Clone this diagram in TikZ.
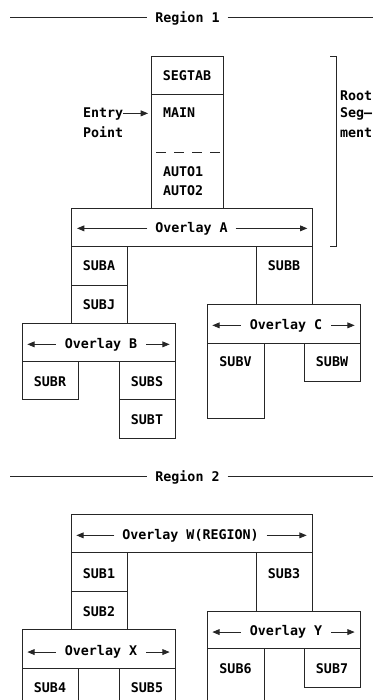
\documentclass[tikz,border=0pt]{standalone}
\usepackage{fontspec}
\setmainfont{DejaVu Sans Mono}
\usetikzlibrary{fit,arrows.meta,calc}
\tikzset{
  ln/.style={draw=black!85, line width=0.65pt},
  bx/.style={ln, inner sep=0pt, outer sep=0pt, fit={#1}},
  hole/.style={inner sep=0pt, outer sep=0pt, fit={#1}},
  tx/.style={inner sep=0pt, outer sep=0pt, anchor=base, font=\fontsize{10pt}{12pt}\selectfont\bfseries, text=black},
  txl/.style={tx, anchor=base west},
  arr/.style={ln, -{Triangle[length=5.5pt,width=4.4pt]}},
}
\begin{document}
\begin{tikzpicture}[x=0.75pt,y=-0.75pt]
\useasboundingbox (0,0) rectangle (375,700);

% ---------- Region 1 header ----------
\node[tx] (reg1) at (187.5,22) {Region 1};
\coordinate (r1l) at (10,17.3);
\coordinate (r1r) at (373,17.3);
\draw[ln] (r1l) -- ([xshift=-6pt]reg1.west |- r1l);
\draw[ln] ([xshift=6pt]reg1.east |- r1r) -- (r1r);

% ---------- Root segment ----------
\node[bx={(151,56) (223,94)}] (segtab) {};
\node[hole={(151,94) (223,152)}] (main) {};
\node[hole={(151,152) (223,208)}] (auto) {};
\node[bx={(segtab.north west) (auto.south east)}] (root) {};
\draw[ln, dash pattern=on 7pt off 6.5pt, dash phase=-4pt] (main.south west) -- (main.south east);
\node[tx] (segtabt) at (187,80) {SEGTAB};
\node[txl] (maint) at (163,117) {MAIN};
\node[txl] (auto1t) at (163,176) {AUTO1};
\node[txl] (auto2t) at (163,195) {AUTO2};

% entry point
\node[txl] (entry) at (83,117) {Entry};
\node[txl] (point) at (83,137) {Point};
\draw[arr] (entry.mid east) -- ([xshift=-2.2pt]main.west |- entry.mid east);

% root segment bracket
\coordinate (brt) at (336,56);
\coordinate (brb) at (336,246);
\draw[ln] ([xshift=-4.5pt]brt) -- (brt) -- (brb) -- ([xshift=-4.5pt]brb);
\node[txl] (roott) at (340,100) {Root};
\node[txl] (segt) at (340,117) {Seg—};
\node[txl] (mentt) at (340,137) {ment};

% ---------- Overlay A ----------
\node[bx={(71,208) (312,246)}] (ova) {};
\node[tx] (ovat) at (191.5,232) {Overlay A};
\draw[arr] ([xshift=-6pt]ovat.mid west) -- ([xshift=4.5pt]ova.west |- ovat.mid west);
\draw[arr] ([xshift=6pt]ovat.mid east) -- ([xshift=-3.5pt]ova.east |- ovat.mid east);

\node[bx={(71,246) (127,285)}] (suba) {};
\node[tx] (subat) at (suba.center |- 0,270.7) {SUBA};
\node[bx={(71,285) (127,323)}] (subj) {};
\node[tx] (subjt) at (subj.center |- 0,309.5) {SUBJ};
\node[bx={(256,246) (312,304)}] (subb) {};
\node[tx] (subbt) at (subb.center |- 0,270.7) {SUBB};

% ---------- Overlay B ----------
\node[bx={(22,323) (175,361)}] (ovb) {};
\node[tx] (ovbt) at (101,348) {Overlay B};
\draw[arr] ([xshift=-7pt]ovbt.mid west) -- ([xshift=4pt]ovb.west |- ovbt.mid west);
\draw[arr] ([xshift=7pt]ovbt.mid east) -- ([xshift=-4pt]ovb.east |- ovbt.mid east);

\node[bx={(22,361) (78,399)}] (subr) {};
\node[tx] (subrt) at (subr.center |- 0,386) {SUBR};
\node[bx={(119,361) (175,399)}] (subs) {};
\node[tx] (subst) at (subs.center |- 0,386) {SUBS};
\node[bx={(119,399) (175,438)}] (subt) {};
\node[tx] (subtt) at (subt.center |- 0,424) {SUBT};

% ---------- Overlay C ----------
\node[bx={(207,304) (360,343)}] (ovc) {};
\node[tx] (ovct) at (286,329) {Overlay C};
\draw[arr] ([xshift=-7pt]ovct.mid west) -- ([xshift=4pt]ovc.west |- ovct.mid west);
\draw[arr] ([xshift=7pt]ovct.mid east) -- ([xshift=-4pt]ovc.east |- ovct.mid east);

\node[bx={(207,343) (264,418)}] (subv) {};
\node[tx] (subvt) at (subv.center |- 0,366.7) {SUBV};
\node[bx={(304,343) (360,381)}] (subw) {};
\node[tx] (subwt) at (subw.center |- 0,366.7) {SUBW};

% ---------- Region 2 header ----------
\node[tx] (reg2) at (187.5,481.7) {Region 2};
\coordinate (r2l) at (10,476.7);
\coordinate (r2r) at (373,476.7);
\draw[ln] (r2l) -- ([xshift=-6pt]reg2.west |- r2l);
\draw[ln] ([xshift=6pt]reg2.east |- r2r) -- (r2r);

% ---------- Overlay W ----------
\node[bx={(71,514) (312,552)}] (ovw) {};
\node[tx] (ovwt) at (190.5,539) {Overlay W(REGION)};
\draw[arr] ([xshift=-6pt]ovwt.mid west) -- ([xshift=4pt]ovw.west |- ovwt.mid west);
\draw[arr] ([xshift=6pt]ovwt.mid east) -- ([xshift=-4pt]ovw.east |- ovwt.mid east);

\node[bx={(71,552) (127,591)}] (sub1) {};
\node[tx] (sub1t) at (sub1.center |- 0,578) {SUB1};
\node[bx={(71,591) (127,629)}] (sub2) {};
\node[tx] (sub2t) at (sub2.center |- 0,616.7) {SUB2};
\node[bx={(256,552) (312,611)}] (sub3) {};
\node[tx] (sub3t) at (sub3.center |- 0,578) {SUB3};

% ---------- Overlay X ----------
\node[bx={(22,629) (175,668)}] (ovx) {};
\node[tx] (ovxt) at (101,655.7) {Overlay X};
\draw[arr] ([xshift=-7pt]ovxt.mid west) -- ([xshift=4pt]ovx.west |- ovxt.mid west);
\draw[arr] ([xshift=7pt]ovxt.mid east) -- ([xshift=-4pt]ovx.east |- ovxt.mid east);

\node[hole={(22,668) (78,700)}] (sub4) {};
\draw[ln] (sub4.south west) -- (sub4.north west) -- (sub4.north east) -- (sub4.south east);
\node[tx] (sub4t) at (sub4.center |- 0,692) {SUB4};
\node[hole={(119,668) (175,700)}] (sub5) {};
\draw[ln] (sub5.south west) -- (sub5.north west) -- (sub5.north east) -- (sub5.south east);
\node[tx] (sub5t) at (sub5.center |- 0,692) {SUB5};

% ---------- Overlay Y ----------
\node[bx={(207,611) (360,648)}] (ovy) {};
\node[tx] (ovyt) at (286,635.7) {Overlay Y};
\draw[arr] ([xshift=-7pt]ovyt.mid west) -- ([xshift=4pt]ovy.west |- ovyt.mid west);
\draw[arr] ([xshift=7pt]ovyt.mid east) -- ([xshift=-4pt]ovy.east |- ovyt.mid east);

\node[hole={(207,648) (264,700)}] (sub6) {};
\draw[ln] (sub6.south west) -- (sub6.north west) -- (sub6.north east) -- (sub6.south east);
\node[tx] (sub6t) at (sub6.center |- 0,673) {SUB6};
\node[bx={(304,648) (360,687)}] (sub7) {};
\node[tx] (sub7t) at (sub7.center |- 0,673) {SUB7};
\end{tikzpicture}
\end{document}
